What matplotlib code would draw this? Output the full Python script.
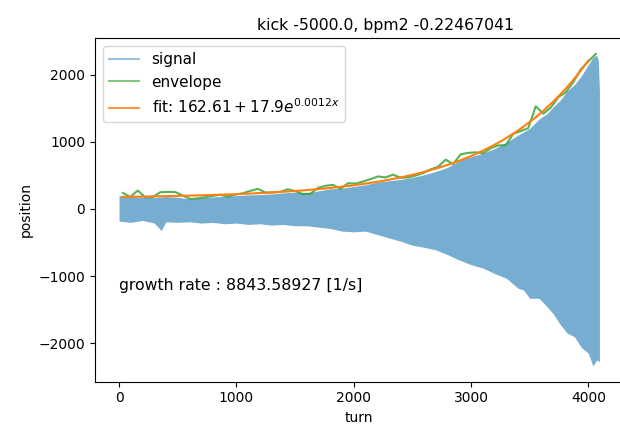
import numpy as np
import matplotlib.pyplot as plt
from matplotlib.lines import Line2D

# signal outline (top / bottom of the dense oscillation)
sig_turn = [0, 100, 200, 300, 360, 400, 500, 600, 700, 800, 900, 1000, 1100,
            1200, 1300, 1400, 1500, 1600, 1700, 1800, 1900, 2000, 2100, 2200,
            2300, 2400, 2500, 2600, 2700, 2800, 2900, 3000, 3100, 3200, 3300,
            3400, 3450, 3500, 3580, 3650, 3700, 3760, 3820, 3880, 3940, 4000,
            4040, 4070, 4085, 4095]
sig_upper = [200, 190, 175, 170, 180, 185, 175, 150, 165, 180, 190, 200, 210,
             215, 225, 240, 250, 240, 270, 300, 310, 335, 360, 400,
             420, 440, 470, 510, 560, 620, 720, 780, 830, 900, 990,
             1100, 1150, 1200, 1340, 1420, 1520, 1620, 1760, 1850, 1980, 2150,
             2260, 2290, 2220, 1740]
sig_lower = [-180, -200, -170, -210, -320, -190, -200, -190, -210, -200, -220,
             -210, -230, -220, -240, -230, -250, -250, -270, -290, -330, -340,
             -330, -380, -430, -480, -540, -570, -610, -680, -760, -830, -880,
             -960, -1030, -1180, -1210, -1330, -1330, -1460, -1560, -1720,
             -1850, -1900, -2060, -2150, -2340, -2250, -2260, -2277]

# envelope points
env_turn = [32, 96, 160, 224, 288, 352, 416, 480, 544, 608, 672, 736, 800,
            864, 928, 992, 1056, 1120, 1184, 1248, 1312, 1376, 1440, 1504,
            1568, 1632, 1696, 1760, 1824, 1888, 1952, 2016, 2080, 2144, 2208,
            2272, 2336, 2400, 2464, 2528, 2592, 2656, 2720, 2784, 2848, 2912,
            2976, 3040, 3104, 3168, 3232, 3296, 3360, 3424, 3488, 3552, 3616,
            3680, 3744, 3808, 3872, 3936, 4000, 4064]
env_val = [240, 180, 275, 175, 178, 250, 255, 252, 200, 148, 158, 175, 195,
           212, 185, 215, 235, 270, 300, 245, 250, 255, 295, 265,
           220, 228, 315, 345, 360, 300, 385, 378, 410, 445, 485,
           470, 512, 465, 470, 498, 535, 590, 630, 735, 670, 815,
           835, 845, 830, 905, 948, 950, 1120, 1160, 1205, 1530, 1420,
           1510, 1665, 1740, 1890, 2080, 2200, 2310]

# exponential fit parameters
fit_a = 162.61
fit_b = 17.9
fit_c = 0.001185
growth_rate = 8843.58927

fig = plt.figure(figsize=(6.2, 4.28), dpi=100)
ax = fig.add_axes([95 / 620, 0.1082, 0.8524, 0.8023])

ax.fill_between(sig_turn, sig_lower, sig_upper, color="C0", alpha=0.6, linewidth=0)
ax.plot(env_turn, env_val, color="C2", alpha=0.8)
fit_x = np.array(env_turn[:-1])
ax.plot(fit_x, fit_a + fit_b * np.exp(fit_c * fit_x), color="C1")

fit_label = rf"fit: ${fit_a:.2f} + {fit_b:.1f}e^{{{fit_c:.4f}x}}$"
handles = [
    Line2D([], [], color="C0", alpha=0.45),
    Line2D([], [], color="C2", alpha=0.6),
    Line2D([], [], color="C1", alpha=0.8),
]
ax.legend(handles, ["signal", "envelope", fit_label], loc="upper left", fontsize=11)

ax.text(0, -1200, f"growth rate : {growth_rate:.5f} [1/s]", fontsize=11.3)
ax.set_title("kick -5000.0, bpm2 -0.22467041", fontsize=11.3, x=0.549)
ax.set_xlabel("turn")
ax.set_ylabel("position")

fig.savefig("out.png", dpi=100)
